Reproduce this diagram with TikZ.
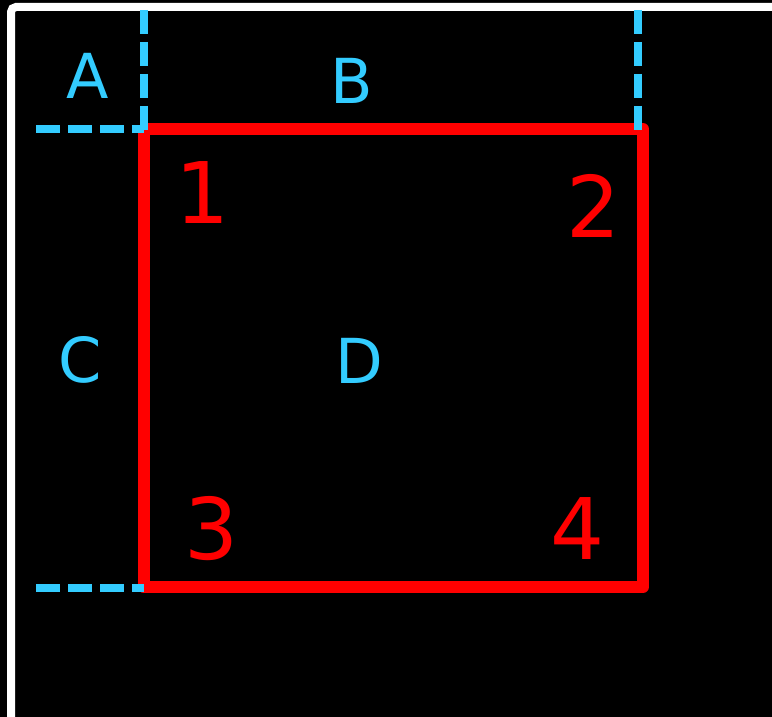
\documentclass[tikz,border=0pt]{standalone}
\usepackage{fontspec}
\setmainfont{DejaVu Sans}
\definecolor{skyb}{HTML}{33CCFF}
\definecolor{redc}{HTML}{FF0000}
\begin{document}
\begin{tikzpicture}[x=1pt,y=-1pt,
  frame/.style={draw=white,line width=8pt,rounded corners=5pt},
  box/.style={draw=redc,line width=12pt,line cap=square,line join=round},
  guide/.style={draw=skyb,line width=8pt,dash pattern=on 24pt off 8pt},
  bluelabel/.style={text=skyb,font=\fontsize{62}{62}\selectfont,inner sep=0pt},
  redlabel/.style={text=redc,font=\fontsize{85}{85}\selectfont,inner sep=0pt}]
\fill[black] (0,0) rectangle (772,717);
\useasboundingbox (0,0) rectangle (772,717);
\draw[frame] (11,7) rectangle (790,735);
% corners of the red square
\coordinate (tl) at (143.5,129);
\coordinate (tr) at (643,129);
\coordinate (br) at (643,587);
\coordinate (bl) at (143.5,587);
\draw[box] (tl) -- (tr) -- (br) -- (bl) -- (tl);
% guide lines
\coordinate (g1) at (144,10);
\coordinate (g2) at (144,130);
\coordinate (g3) at (638,10);
\coordinate (g4) at (638,130);
\coordinate (g5) at (36,129.5);
\coordinate (g6) at (144,129.5);
\coordinate (g7) at (36,588);
\coordinate (g8) at (144,588);
\draw[guide] (g1) -- (g2);
\draw[guide] (g3) -- (g4);
\draw[guide] (g5) -- (g6);
\draw[guide] (g7) -- (g8);
% labels
\node[bluelabel] (A) at (88,76) {A};
\node[bluelabel] (B) at (352,81) {B};
\node[bluelabel] (C) at (80,360) {C};
\node[bluelabel] (D) at (359,361) {D};
\node[redlabel] (n1) at (203,193) {1};
\node[redlabel] (n2) at (594,206) {2};
\node[redlabel] (n3) at (212,529) {3};
\node[redlabel] (n4) at (578,529) {4};
\end{tikzpicture}
\end{document}
